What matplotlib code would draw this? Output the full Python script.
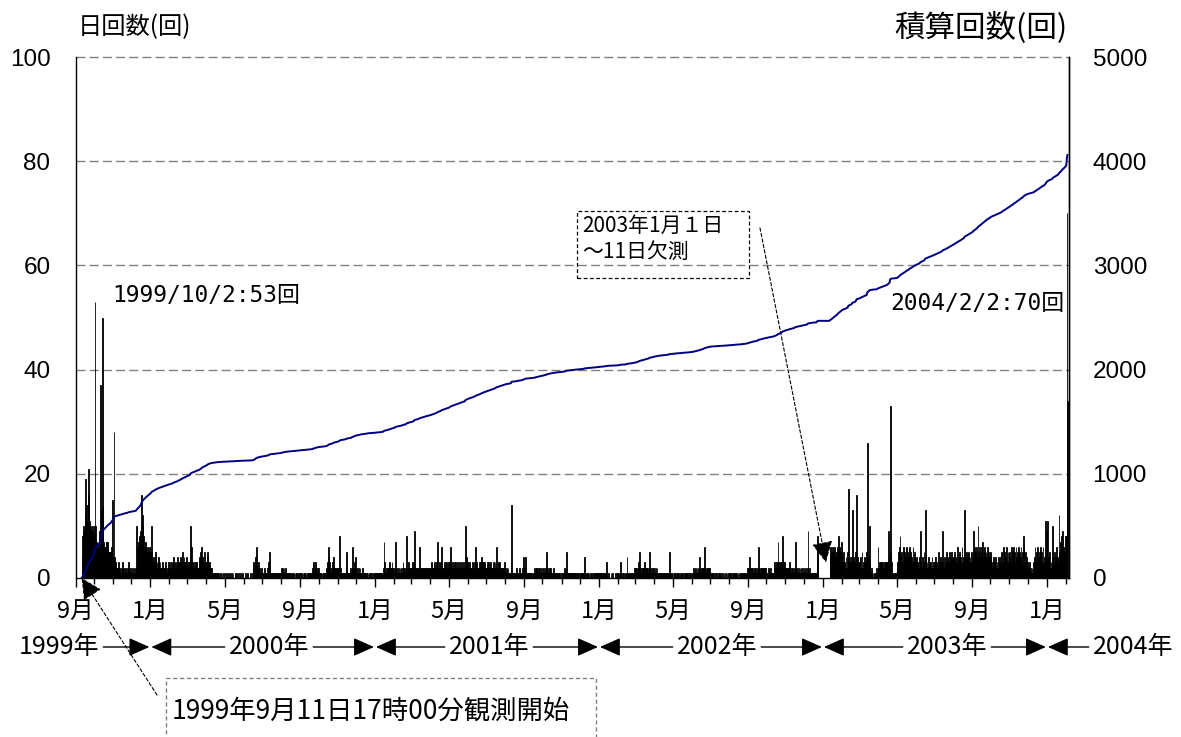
import numpy as np
import pandas as pd
import matplotlib
matplotlib.use("Agg")
import matplotlib.pyplot as plt
import matplotlib.dates as mdates
from matplotlib.patches import Rectangle

JP = "Noto Sans CJK JP"
NUM = "Liberation Sans"
MONO = ["DejaVu Sans Mono", JP]
plt.rcParams["font.family"] = [JP, "DejaVu Sans"]

# Daily earthquake counts, one string per month ("-" = no observation).
daily_1999 = {
    "1999-09-11": "4 8 9 10 8 12 19 14 10 11 | 21 16 11 10 9 10 8 9 8 10",
    "1999-10-01": "6 53 10 7 6 5 7 6 5 9 | 37 13 10 50 14 7 6 6 5 7 | 7 6 7 5 4 5 4 5 6 15 | 4",
    "1999-11-01": "3 28 4 3 2 2 1 2 3 2 | 1 2 1 1 2 3 2 1 1 2 | 2 1 1 2 3 2 1 1 2 1",
    "1999-12-01": "1 2 1 0 1 2 1 2 10 6 | 5 7 6 8 9 7 16 12 10 8 | 6 5 7 6 5 4 6 5 4 6 | 5",
}
daily_2000 = {
    "2000-01-01": "4 10 5 3 4 2 3 5 4 2 | 3 2 4 3 2 3 2 1 2 3 | 2 1 2 2 3 1 2 1 2 3 | 2",
    "2000-02-01": "2 3 2 1 3 2 4 3 2 1 | 2 3 2 4 3 2 3 4 2 3 | 5 3 2 4 3 2 3 4 3",
    "2000-03-01": "2 3 2 3 4 10 6 3 2 2 | 3 2 2 3 3 2 2 2 2 3 | 4 5 3 6 4 2 3 5 2 3 | 3",
    "2000-04-01": "3 4 5 3 2 3 2 1 2 1 | 1 1 1 1 1 0 1 1 1 0 | 1 0 1 0 0 1 0 1 0 0",
    "2000-05-01": "0 1 0 0 1 0 0 1 0 0 | 1 0 0 1 0 0 0 1 0 1 | 0 0 1 0 0 1 0 0 1 0 | 0",
    "2000-06-01": "0 0 1 0 0 0 1 0 0 0 | 0 1 0 0 1 2 3 2 4 3 | 6 3 2 3 1 2 1 1 2 1",
    "2000-07-01": "1 1 0 2 1 1 0 1 2 1 | 3 5 2 1 1 0 1 1 1 0 | 1 1 0 1 1 1 0 1 1 1 | 0",
    "2000-08-01": "2 1 2 1 2 1 2 1 1 0 | 1 0 1 1 0 1 0 1 1 0 | 1 0 1 0 1 1 0 1 0 1 | 1",
    "2000-09-01": "1 0 1 0 1 0 1 1 0 1 | 0 1 0 1 1 0 1 0 1 1 | 2 3 2 1 3 2 1 2 1 2",
    "2000-10-01": "1 0 1 1 0 1 0 1 1 0 | 1 1 1 2 3 4 6 3 2 1 | 2 1 3 2 4 2 1 2 1 2 | 2",
    "2000-11-01": "1 2 1 8 2 1 1 1 1 1 | 1 1 1 2 5 1 1 1 1 1 | 1 2 1 6 2 1 2 3 4 2",
    "2000-12-01": "2 1 1 2 1 1 2 1 1 1 | 2 1 1 1 1 1 1 1 0 1 | 0 1 0 1 0 1 0 0 1 0 | 1",
}
daily_2001 = {
    "2001-01-01": "1 0 1 0 1 1 0 1 0 1 | 1 0 1 2 7 3 1 1 2 1 | 2 1 2 3 2 1 2 3 2 1 | 2",
    "2001-02-01": "1 2 7 2 1 1 2 1 1 2 | 1 1 2 1 3 2 2 1 1 2 | 8 2 1 3 2 1 2 1",
    "2001-03-01": "2 1 3 2 3 9 2 1 2 1 | 2 2 1 6 2 1 2 2 1 2 | 2 2 1 2 2 2 1 2 2 1 | 2",
    "2001-04-01": "2 1 3 2 2 1 2 3 2 1 | 3 7 2 2 1 3 2 3 6 2 | 1 2 3 2 1 2 3 2 2 3",
    "2001-05-01": "2 3 6 3 2 2 3 1 2 3 | 2 3 2 1 3 2 2 3 2 1 | 2 3 2 3 2 1 3 10 4 2 | 3",
    "2001-06-01": "3 2 2 3 2 1 2 3 2 1 | 2 3 6 2 3 2 1 2 3 2 | 3 2 4 3 2 3 2 3 2 1",
    "2001-07-01": "2 3 2 1 3 2 2 3 2 1 | 2 3 2 2 3 2 6 2 1 3 | 2 3 2 2 1 2 2 1 2 3 | 2",
    "2001-08-01": "1 2 1 1 2 1 0 1 1 2 | 14 1 0 1 1 0 1 1 2 1 | 1 0 1 2 1 1 1 1 2 1 | 4",
    "2001-09-01": "2 4 1 1 0 1 0 1 1 0 | 1 0 1 0 1 1 2 1 1 2 | 2 1 1 2 1 2 1 1 2 1",
    "2001-10-01": "1 2 1 1 2 1 5 1 2 1 | 1 2 1 2 1 1 1 2 1 1 | 1 0 1 0 1 1 0 1 0 0 | 1",
    "2001-11-01": "1 0 1 1 2 1 1 5 1 0 | 1 1 0 1 1 0 1 1 0 1 | 1 0 1 1 0 1 1 0 1 0",
    "2001-12-01": "1 0 1 1 0 1 1 4 0 1 | 0 1 1 0 1 0 1 0 1 1 | 0 1 0 1 0 1 1 0 1 0 | 1",
}
daily_2002 = {
    "2002-01-01": "1 0 1 1 0 1 0 1 1 0 | 1 3 1 0 0 1 0 0 0 1 | 0 0 1 0 0 0 1 0 0 1 | 1",
    "2002-02-01": "0 0 1 3 1 0 1 0 0 1 | 0 0 1 1 4 1 1 0 1 1 | 0 1 1 0 1 1 2 1",
    "2002-03-01": "2 1 2 1 2 3 5 2 1 2 | 1 2 1 2 3 1 2 1 2 1 | 2 1 5 2 1 2 1 2 1 2 | 1",
    "2002-04-01": "1 2 1 1 2 1 1 0 1 1 | 1 0 1 1 0 1 1 0 1 1 | 0 1 1 0 5 1 0 1 1 0",
    "2002-05-01": "1 0 1 1 0 1 0 1 1 0 | 0 1 0 1 1 0 1 0 0 1 | 1 0 1 0 1 0 1 1 0 1 | 0",
    "2002-06-01": "1 1 2 1 1 2 1 1 2 1 | 2 1 4 2 1 2 1 2 1 2 | 6 2 1 2 1 2 1 2 1 2",
    "2002-07-01": "1 0 1 1 0 1 0 0 1 0 | 1 0 0 1 0 1 0 1 0 0 | 1 0 1 0 0 1 0 1 0 1 | 0",
    "2002-08-01": "1 0 1 0 0 1 0 1 1 0 | 1 0 1 0 1 0 0 1 0 1 | 1 0 1 1 0 1 1 0 1 1 | 2",
    "2002-09-01": "2 4 1 2 1 2 1 2 1 1 | 2 1 2 1 2 1 6 2 1 2 | 1 2 1 2 1 2 2 1 2 1",
    "2002-10-01": "1 1 2 1 1 1 2 1 1 1 | 1 1 2 3 2 3 2 3 7 2 | 3 2 3 2 3 8 2 3 2 3 | 2",
    "2002-11-01": "2 1 2 2 1 2 3 1 2 1 | 2 2 1 1 2 7 1 2 1 1 | 2 1 1 2 1 1 2 1 1 2",
    "2002-12-01": "1 1 2 1 1 2 9 1 1 2 | 1 0 1 1 0 1 1 0 1 0 | 1 8 6 0 0 0 0 0 0 0 | 0",
}
daily_2003 = {
    "2003-01-01": "- - - - - - - - - - | - 6 4 5 3 6 5 4 6 5 | 4 5 3 6 8 5 4 6 5 4 | 7",
    "2003-02-01": "3 1 5 2 3 1 4 2 5 1 | 17 3 2 4 1 3 13 2 4 1 | 3 2 5 16 4 2 3 1",
    "2003-03-01": "3 1 4 2 5 1 3 2 4 2 | 3 1 5 26 4 2 10 3 1 2 | 1 0 1 0 1 0 1 0 2 1 | 6",
    "2003-04-01": "2 3 1 3 2 3 1 3 2 3 | 1 3 2 3 2 3 9 4 3 33 | 5 3 1 1 0 1 0 1 1 0",
    "2003-05-01": "2 3 5 3 6 8 4 3 5 2 | 6 3 5 2 4 6 3 5 2 4 | 6 3 5 2 4 3 6 2 4 5 | 3",
    "2003-06-01": "2 4 1 3 2 4 2 9 3 2 | 4 2 3 5 2 13 4 2 3 1 | 4 2 3 1 3 2 4 1 3 2",
    "2003-07-01": "3 2 4 1 3 2 5 2 3 1 | 4 2 3 9 3 2 4 1 3 2 | 5 3 4 2 5 3 4 2 5 2 | 4",
    "2003-08-01": "4 2 5 3 4 2 6 3 4 2 | 5 3 4 2 6 3 4 2 13 4 | 3 5 2 4 3 5 2 4 3 5 | 2",
    "2003-09-01": "3 9 4 6 3 5 4 6 3 10 | 5 4 6 3 5 6 4 7 3 5 | 6 4 5 3 6 4 5 3 4 5",
    "2003-10-01": "4 2 3 2 4 1 3 2 4 2 | 3 1 4 2 3 2 4 2 5 3 | 6 3 5 2 4 3 6 2 5 3 | 4",
    "2003-11-01": "5 3 6 2 5 4 6 3 5 2 | 6 4 5 3 6 2 5 4 6 3 | 5 2 8 6 3 5 2 4 3 2",
    "2003-12-01": "2 1 3 1 2 1 2 1 3 1 | 4 6 2 5 3 6 2 4 5 3 | 6 2 5 3 6 2 4 3 11 9 | 4",
}
daily_2004 = {
    "2004-01-01": "11 2 4 1 5 2 3 1 4 10 | 3 5 2 4 3 6 2 4 3 12 | 5 7 4 8 5 9 4 6 5 8 | 4",
    "2004-02-01": "8 70 34",
}

month_names = {1: "1月", 5: "5月", 9: "9月"}
years = ["1999年", "2000年", "2001年", "2002年", "2003年", "2004年"]
left_ticks = [0, 20, 40, 60, 80, 100]
right_ticks = [0, 1000, 2000, 3000, 4000, 5000]
start_note = "1999年9月11日17時00分観測開始"
gap_note = "2003年1月１日\n～11日欠測"
peak_days = ["1999-10-02", "2004-02-02"]

# ---- assemble the daily series -------------------------------------------
dates, counts = [], []
for table in (daily_1999, daily_2000, daily_2001, daily_2002, daily_2003, daily_2004):
    for start, text in table.items():
        vals = [np.nan if t == "-" else float(t) for t in text.replace("|", " ").split()]
        dates.extend(pd.date_range(start, periods=len(vals), freq="D"))
        counts.extend(vals)
dates = pd.DatetimeIndex(dates)
counts = np.array(counts)
total = np.nancumsum(counts)
xd = mdates.date2num(dates)

# ---- figure ----------------------------------------------------------------
W, H = 1181, 737
fig = plt.figure(figsize=(W / 100, H / 100), dpi=100)
L, R, T, B = 75.5, 1069, 57, 578
ax = fig.add_axes([L / W, 1 - B / H, (R - L) / W, (B - T) / H])

obs = ~np.isnan(counts)
ax.bar(xd[obs], counts[obs], width=1.4, align="edge", color="black",
       edgecolor="black", linewidth=0.6, zorder=2)
ax.set_xlim(mdates.date2num(pd.Timestamp("1999-09-01")),
            mdates.date2num(pd.Timestamp("2004-02-06")))
ax.set_ylim(0, 100)

for yv in left_ticks[1:]:
    ax.axhline(yv, color="#808080", lw=1.0, ls=(0, (6.5, 3)), zorder=1, clip_on=False)

ax2 = ax.twinx()
ax2.set_ylim(0, 5000)
ax2.plot(xd + 0.5, total, color="#000080", lw=1.4, zorder=3)

for a in (ax, ax2):
    a.spines["top"].set_visible(False)
    for s in a.spines.values():
        s.set_linewidth(1.0)
        s.set_color("black")
ax2.spines["left"].set_visible(False)
ax2.spines["bottom"].set_visible(False)

ax.set_yticks(left_ticks)
ax.set_yticklabels([str(v) for v in left_ticks], fontfamily=NUM, fontsize=17.5)
ax.tick_params(axis="y", length=0, pad=18)
ax2.set_yticks(right_ticks)
ax2.set_yticklabels([str(v) for v in right_ticks], fontfamily=NUM, fontsize=17.5)
ax2.tick_params(axis="y", length=0, pad=17)

ax.xaxis.set_major_locator(mdates.MonthLocator(bymonth=[1, 5, 9]))
ax.xaxis.set_minor_locator(mdates.MonthLocator())
ax.xaxis.set_major_formatter(plt.FuncFormatter(
    lambda v, p: month_names[mdates.num2date(v).month]))
ax.tick_params(axis="x", which="major", length=6.5, width=1, pad=9, labelsize=17)
ax.tick_params(axis="x", which="minor", length=4.3, width=1)

# axis titles
fig.text(78 / W, 1 - 27 / H, "日回数(回)", fontsize=17.5, ha="left", va="center")
fig.text(1068 / W, 1 - 27 / H, "積算回数(回)", fontsize=22, ha="right", va="center")

# peak labels, written from the data
for day, (px, py, ha) in zip(peak_days, [(112, 296, "left"), (1064, 304, "right")]):
    ts = pd.Timestamp(day)
    v = counts[dates.get_loc(ts)]
    fig.text(px / W, 1 - py / H, f"{ts.year}/{ts.month}/{ts.day}:{int(v)}回",
             fontsize=16.5, family=MONO, ha=ha, va="center")

# year row with arrows to the year boundaries
fig.canvas.draw()
renderer = fig.canvas.get_renderer()
bounds = [ax.transData.transform((mdates.date2num(pd.Timestamp(f"{y}-01-01")), 0))[0]
          for y in range(2000, 2005)]
centers = [59, 269, 489, 717, 947, 1133]
yrow = H - 647
arrow_kw = dict(arrowstyle="-|>,head_length=0.45,head_width=0.2", color="black",
                lw=1.0, shrinkA=0, shrinkB=0, mutation_scale=28)
for i, (label, cx) in enumerate(zip(years, centers)):
    t = fig.text(cx / W, yrow / H, label, fontsize=18, ha="center", va="center")
    bb = t.get_window_extent(renderer)
    if i > 0:
        ax.annotate("", xy=(bounds[i - 1] + 1, yrow), xytext=(bb.x0 - 4, yrow),
                    xycoords="figure pixels", textcoords="figure pixels",
                    arrowprops=arrow_kw, annotation_clip=False)
    if i < len(years) - 1:
        ax.annotate("", xy=(bounds[i] - 1, yrow), xytext=(bb.x1 + 4, yrow),
                    xycoords="figure pixels", textcoords="figure pixels",
                    arrowprops=arrow_kw, annotation_clip=False)

# notes
dash_kw = dict(arrowstyle="-|>,head_length=0.5,head_width=0.25", color="black",
               lw=0.8, ls=(0, (3, 2)), shrinkA=0, shrinkB=0, mutation_scale=26)
ax.annotate("", xy=(mdates.date2num(pd.Timestamp("1999-09-11")), 0),
            xytext=(157, H - 695), textcoords="figure pixels",
            arrowprops=dash_kw, annotation_clip=False)
fig.add_artist(Rectangle((166 / W, 1 - 745 / H), 430 / W, 67 / H,
                         transform=fig.transFigure, fill=False, ec="#808080",
                         lw=1.0, ls=(0, (3, 2))))
fig.text(172 / W, 1 - 711 / H, start_note, fontsize=19, ha="left", va="center")

ax.annotate("", xy=(mdates.date2num(pd.Timestamp("2003-01-06")), 3),
            xytext=(760, H - 228), textcoords="figure pixels",
            arrowprops=dash_kw, annotation_clip=False)
fig.add_artist(Rectangle((577 / W, 1 - 278 / H), 172 / W, 67 / H,
                         transform=fig.transFigure, fill=False, ec="black",
                         lw=0.9, ls=(0, (3, 2))))
fig.text(582 / W, 1 - 239 / H, gap_note, fontsize=15, ha="left", va="center",
         linespacing=1.25)

fig.savefig("out.png", dpi=100)
